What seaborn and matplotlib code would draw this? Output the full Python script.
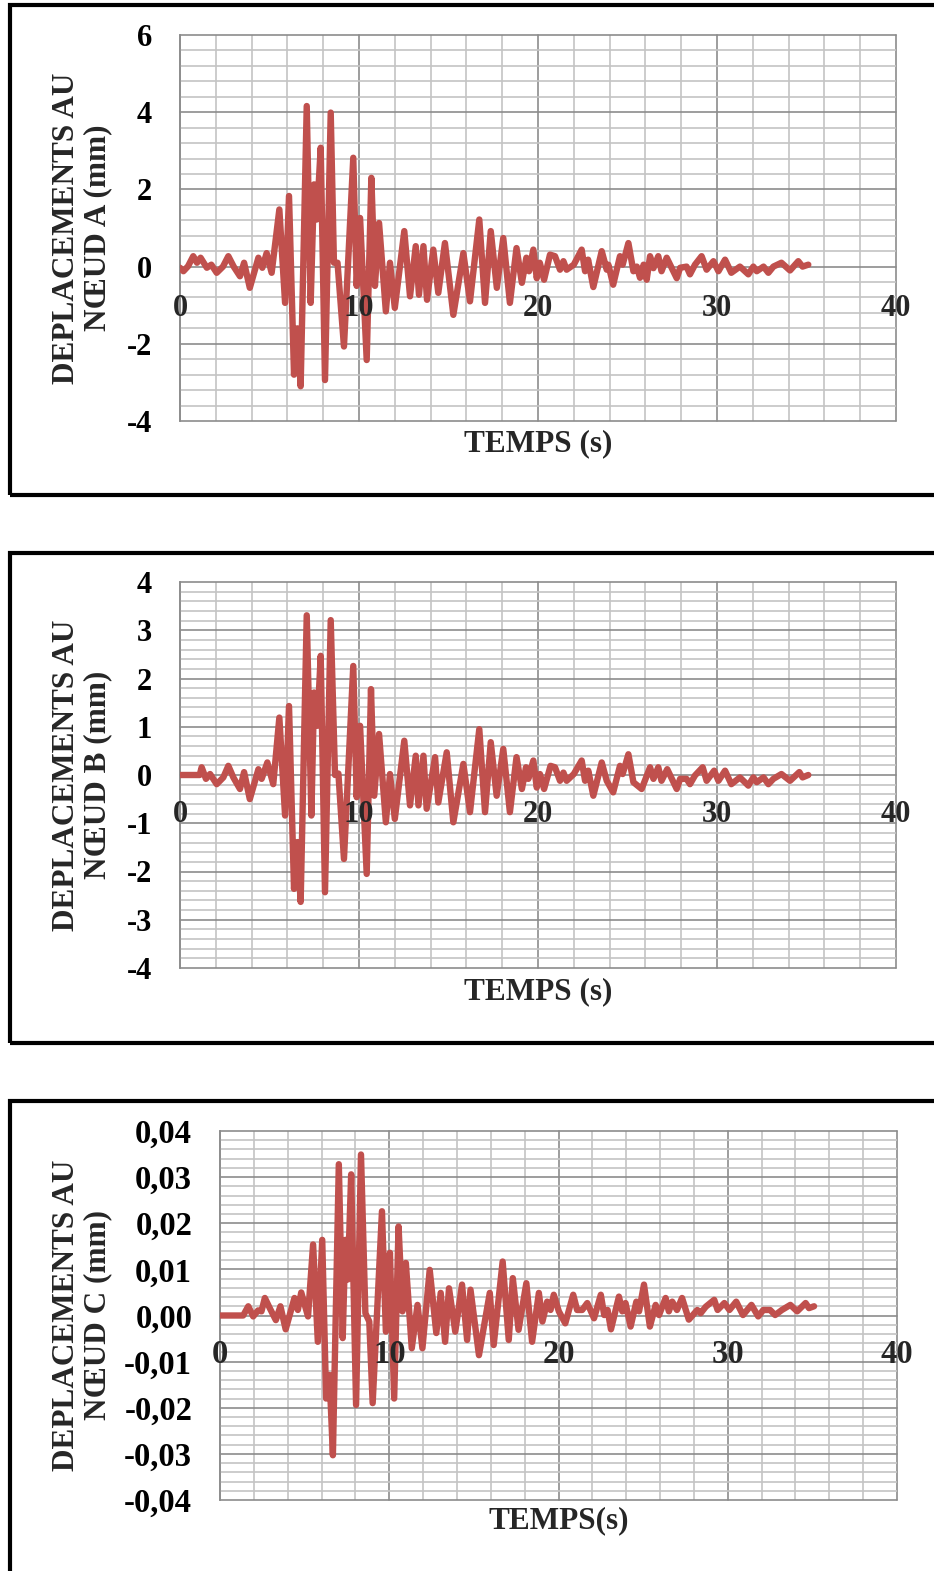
import matplotlib.pyplot as plt
import seaborn as sns
import numpy as np
import pandas as pd
from matplotlib.patches import Rectangle
from matplotlib.ticker import FixedLocator, FixedFormatter, MultipleLocator
from matplotlib.transforms import offset_copy

# Node A : time (s) / displacement (mm)
time_a = [0, 0.19, 0.45, 0.74, 0.95, 1.15, 1.5, 1.75, 2.05, 2.4, 2.7, 3.0, 3.35, 3.58, 3.9,
          4.38, 4.6, 4.84, 5.12, 5.55, 5.87, 6.09, 6.37, 6.55, 6.74, 7.08, 7.3, 7.49, 7.64,
          7.86, 8.1, 8.42, 8.6, 8.8, 9.16, 9.68, 9.87, 10.06, 10.43, 10.69, 10.89, 11.12,
          11.5, 11.73, 12.0, 12.53, 12.85, 13.17, 13.35, 13.6, 13.8, 14.15, 14.43, 14.8,
          15.27, 15.83, 16.2, 16.72, 17.04, 17.36, 17.7, 18.06, 18.43, 18.8, 19.1, 19.35,
          19.5, 19.74, 19.93, 20.1, 20.34, 20.67, 20.95, 21.23, 21.42, 21.6, 22.0, 22.44,
          22.63, 22.8, 23.09, 23.56, 23.84, 23.93, 24.2, 24.58, 24.73, 25.05, 25.33, 25.52,
          25.7, 25.9, 26.07, 26.26, 26.45, 26.72, 26.9, 27.19, 27.75, 27.94, 28.3, 28.49,
          28.77, 29.14, 29.42, 29.8, 30.08, 30.45, 30.8, 31.28, 31.75, 32.03, 32.22, 32.6,
          32.87, 33.15, 33.6, 34.08, 34.54, 34.78, 35.1]
disp_a = [-0.03, -0.12, 0.01, 0.27, 0.1, 0.23, -0.03, 0.05, -0.16, 0.0, 0.27, 0.0, -0.25, 0.1, -0.55,
          0.23, -0.03, 0.35, -0.16, 1.48, -0.94, 1.83, -2.8, -1.6, -3.1, 4.16, -0.94, 2.13, 1.22,
          3.08, -2.94, 3.99, 0.1, 0.1, -2.07, 2.82, -0.5, 1.26, -2.42, 2.3, -0.5, 1.13,
          -1.16, 0.1, -1.07, 0.92, -0.77, 0.53, -0.73, 0.53, -0.86, 0.44, -0.68, 0.61,
          -1.25, 0.35, -0.9, 1.22, -0.94, 0.92, -0.55, 0.74, -0.94, 0.48, -0.42, 0.23,
          -0.12, 0.44, -0.3, 0.1, -0.34, 0.31, 0.27, -0.08, 0.14, -0.08, 0.05, 0.44,
          -0.12, 0.18, -0.53, 0.4, -0.08, 0.05, -0.47, 0.27, 0.05, 0.61, -0.12, 0.0,
          -0.29, 0.05, -0.34, 0.27, -0.04, 0.27, -0.12, 0.23, -0.3, -0.03, 0.0, -0.2,
          0.05, 0.27, -0.08, 0.14, -0.12, 0.18, -0.16, 0.0, -0.2, 0.0, -0.12, 0.0,
          -0.16, 0.0, 0.1, -0.1, 0.14, 0.0, 0.05]

# Node B
time_b = [0, 1.1, 1.21, 1.45, 1.68, 2.05, 2.42, 2.7, 2.98, 3.35, 3.58, 3.9, 4.38, 4.56, 4.88,
          5.21, 5.55, 5.87, 6.09, 6.37, 6.55, 6.74, 7.08, 7.34, 7.49, 7.67, 7.86, 8.1, 8.42,
          8.66, 8.85, 9.16, 9.68, 9.87, 10.06, 10.43, 10.67, 10.85, 11.12, 11.5, 11.73, 12.0,
          12.53, 12.85, 13.17, 13.32, 13.6, 13.78, 14.25, 14.43, 14.9, 15.27, 15.83, 16.2,
          16.72, 17.04, 17.36, 17.69, 18.06, 18.43, 18.8, 19.1, 19.33, 19.46, 19.74, 19.93,
          20.11, 20.34, 20.7, 20.95, 21.23, 21.42, 21.6, 22.0, 22.44, 22.63, 22.81, 23.09,
          23.56, 23.84, 24.2, 24.58, 24.73, 25.05, 25.33, 25.79, 26.26, 26.45, 26.72, 26.9,
          27.22, 27.75, 27.94, 28.3, 28.49, 28.77, 29.2, 29.42, 29.84, 30.08, 30.45, 30.8,
          31.28, 31.75, 32.03, 32.22, 32.6, 32.87, 33.15, 33.6, 34.08, 34.6, 34.78, 35.1]
disp_b = [0, 0, 0.16, -0.08, 0.02, -0.19, -0.05, 0.19, -0.05, -0.29, 0.06, -0.5, 0.12, -0.08, 0.26,
          -0.19, 1.19, -0.84, 1.43, -2.36, -1.39, -2.63, 3.31, -0.84, 1.71, 1.02, 2.47, -2.43, 3.21,
          0.0, 0.03, -1.74, 2.26, -0.46, 1.02, -2.05, 1.78, -0.43, 0.85, -0.98, 0.02, -0.91,
          0.71, -0.63, 0.4, -0.63, 0.4, -0.7, 0.37, -0.57, 0.47, -0.98, 0.23, -0.77,
          0.95, -0.77, 0.68, -0.43, 0.54, -0.77, 0.37, -0.29, 0.16, -0.08, 0.3, -0.26,
          0.02, -0.29, 0.19, 0.16, -0.12, 0.05, -0.12, 0.02, 0.3, -0.12, 0.09, -0.43,
          0.26, -0.12, -0.36, 0.19, 0.02, 0.43, -0.15, -0.29, 0.16, -0.08, 0.16, -0.12,
          0.12, -0.29, -0.08, -0.08, -0.19, -0.01, 0.16, -0.12, 0.09, -0.12, 0.09, -0.19,
          -0.05, -0.22, -0.05, -0.15, -0.05, -0.19, -0.08, 0.02, -0.12, 0.06, -0.05, 0.0]

# Node C
time_c = [0, 1.37, 1.67, 1.96, 2.25, 2.45, 2.65, 2.94, 3.3, 3.57, 3.88, 4.4, 4.6, 4.8, 5.2,
          5.5, 5.78, 6.04, 6.27, 6.47, 6.67, 7.02, 7.25, 7.41, 7.55, 7.75, 8.04, 8.33, 8.59,
          8.82, 9.02, 9.57, 9.8, 10.04, 10.29, 10.55, 10.78, 10.98, 11.33, 11.67, 11.96,
          12.39, 12.78, 13.04, 13.3, 13.53, 13.9, 14.3, 14.6, 14.8, 15.3, 15.94, 16.17,
          16.7, 17.06, 17.3, 17.64, 18.1, 18.44, 18.84, 19.05, 19.33, 19.53, 19.72, 20.02,
          20.4, 20.87, 21.1, 21.4, 21.7, 22.1, 22.5, 22.7, 22.9, 23.1, 23.57, 23.77, 23.96,
          24.26, 24.6, 24.76, 25.05, 25.4, 25.74, 25.94, 26.33, 26.52, 26.72, 27.0, 27.3,
          27.7, 28.2, 28.4, 28.7, 29.2, 29.4, 29.8, 30.1, 30.5, 30.9, 31.4, 31.8, 32.1,
          32.5, 32.8, 33.2, 33.7, 34.1, 34.6, 34.8, 35.1]
disp_c = [0, 0, 0.002, -0.0002, 0.0011, 0.0009, 0.0038, 0.0016, -0.001, 0.002, -0.003, 0.0038, 0.0012, 0.005, -0.0002,
          0.0154, -0.0057, 0.0164, -0.018, -0.0129, -0.0303, 0.0328, -0.0049, 0.0164, 0.0078, 0.0306, -0.0194, 0.0349, 0.0005,
          -0.0013, -0.019, 0.0226, -0.0035, 0.0136, -0.018, 0.0193, 0.0009, 0.0114, -0.0071, 0.0023, -0.0071,
          0.0099, -0.0038, 0.0049, -0.0057, 0.0059, -0.0035, 0.0067, -0.0053, 0.0056, -0.0086, 0.0049, -0.0064,
          0.0117, -0.0053, 0.0081, -0.0031, 0.007, -0.0057, 0.0049, -0.0013, 0.003, 0.0012, 0.0045, 0.0009,
          -0.0017, 0.0045, 0.0012, 0.0012, 0.0027, -0.0006, 0.0045, 0.0001, 0.0012, -0.003, 0.0041, 0.0009, 0.0027,
          -0.0024, 0.003, 0.0009, 0.0067, -0.0024, 0.0023, 0.0001, 0.0038, 0.0009, 0.003, 0.0012, 0.0038,
          -0.0009, 0.0012, 0.0005, 0.0019, 0.0034, 0.0012, 0.0027, 0.0012, 0.003, 0.0001, 0.0023, -0.0002, 0.0012,
          0.0012, 0.0001, 0.0012, 0.0023, 0.0009, 0.0027, 0.0016, 0.002]

# Axis ticks and labels
xticks = [0, 10, 20, 30, 40]
xtick_labels = ["0", "10", "20", "30", "40"]
yticks_a = [-4, -2, 0, 2, 4, 6]
ylabels_a = ["-4", "-2", "0", "2", "4", "6"]
yticks_b = [-4, -3, -2, -1, 0, 1, 2, 3, 4]
ylabels_b = ["-4", "-3", "-2", "-1", "0", "1", "2", "3", "4"]
yticks_c = [-0.04, -0.03, -0.02, -0.01, 0.0, 0.01, 0.02, 0.03, 0.04]
ylabels_c = ["-0,04", "-0,03", "-0,02", "-0,01", "0,00", "0,01", "0,02", "0,03", "0,04"]

LINE = "#c0504d"
MAJOR = "#8c8c8c"
MINOR = "#c4c4c4"
W, H = 934, 1571

sns.set_style("white")
plt.rcParams["font.family"] = ["Liberation Serif", "DejaVu Serif"]
plt.rcParams["font.weight"] = "bold"

fig = plt.figure(figsize=(W / 100, H / 100), dpi=100)


def add_ax(l, t, r, b):
    return fig.add_axes([l / W, 1 - b / H, (r - l) / W, (b - t) / H])


panels = [
    # data, axes rect (px), ticks, labels, minor step, tick size, x-label drop (px), ylabel, xlabel, frame
    (time_a, disp_a, (180, 35, 896, 421), yticks_a, ylabels_a, 0.4, 22, 42,
     "DEPLACEMENTS AU\nNŒUD A (mm)", "TEMPS (s)", 444, (5, 495)),
    (time_b, disp_b, (180, 582, 896, 968), yticks_b, ylabels_b, 0.2, 22, 40,
     "DEPLACEMENTS AU\nNŒUD B (mm)", "TEMPS (s)", 992, (553, 1043)),
    (time_c, disp_c, (220, 1131, 897, 1500), yticks_c, ylabels_c, 0.002, 23.5, 39,
     "DEPLACEMENTS AU\nNŒUD C (mm)", "TEMPS(s)", 1521, (1101, 1620)),
]

for (t, d, rect, yt, yl, ystep, tsize, drop, ylab, xlab, xlab_y, frame) in panels:
    l, top, r, b = rect
    ax = add_ax(*rect)
    df = pd.DataFrame({"t": t, "d": d})
    sns.lineplot(data=df, x="t", y="d", ax=ax, color=LINE, linewidth=4.6, sort=False,
                 solid_joinstyle="round", solid_capstyle="round", zorder=3)

    ax.set_xlim(0, 40)
    ax.set_ylim(yt[0], yt[-1])
    ax.xaxis.set_major_locator(FixedLocator(xticks))
    ax.xaxis.set_minor_locator(MultipleLocator(2))
    ax.yaxis.set_major_locator(FixedLocator(yt))
    ax.yaxis.set_major_formatter(FixedFormatter(yl))
    ax.yaxis.set_minor_locator(MultipleLocator(ystep))

    ax.set_axisbelow(True)
    ax.grid(which="major", color=MAJOR, linewidth=1.2)
    ax.grid(which="minor", color=MINOR, linewidth=1.2)
    for gl in ax.get_xgridlines() + ax.get_ygridlines():
        gl.set_clip_on(False)

    for s in ["top", "right", "bottom"]:
        ax.spines[s].set_visible(False)
    ax.spines["left"].set_color(MAJOR)
    ax.spines["left"].set_linewidth(1.2)

    ax.tick_params(axis="x", which="both", length=0, labelbottom=False)
    ax.tick_params(axis="y", which="major", length=7, width=1.2, color=MAJOR, pad=13,
                   labelsize=tsize, labelcolor="black")
    ax.tick_params(axis="y", which="minor", length=0)
    ax.set_xlabel("")
    ax.set_ylabel("")

    # x labels sit under the zero line and over the curve, as in the sheet
    lab_tr = offset_copy(ax.transData, fig=fig, x=0, y=-drop, units="dots")
    for xv, xs in zip(xticks, xtick_labels):
        ax.text(xv, 0, xs, transform=lab_tr, ha="center", va="center", fontsize=tsize,
                fontweight="bold", zorder=6, clip_on=False)

    fig.text(82 / W, 1 - (top + b) / 2 / H, ylab, rotation=90, ha="center", va="center",
             multialignment="center", linespacing=1.1, fontsize=22.5, fontweight="bold")
    fig.text((l + r) / 2 / W, 1 - xlab_y / H, xlab, ha="center", va="center",
             fontsize=22.5, fontweight="bold")

    f_top, f_bot = frame
    fig.patches.append(Rectangle((10 / W, 1 - f_bot / H), 960 / W, (f_bot - f_top) / H,
                                 transform=fig.transFigure, fill=False, edgecolor="black",
                                 linewidth=3, clip_on=False))

fig.savefig("out.png", dpi=100)
